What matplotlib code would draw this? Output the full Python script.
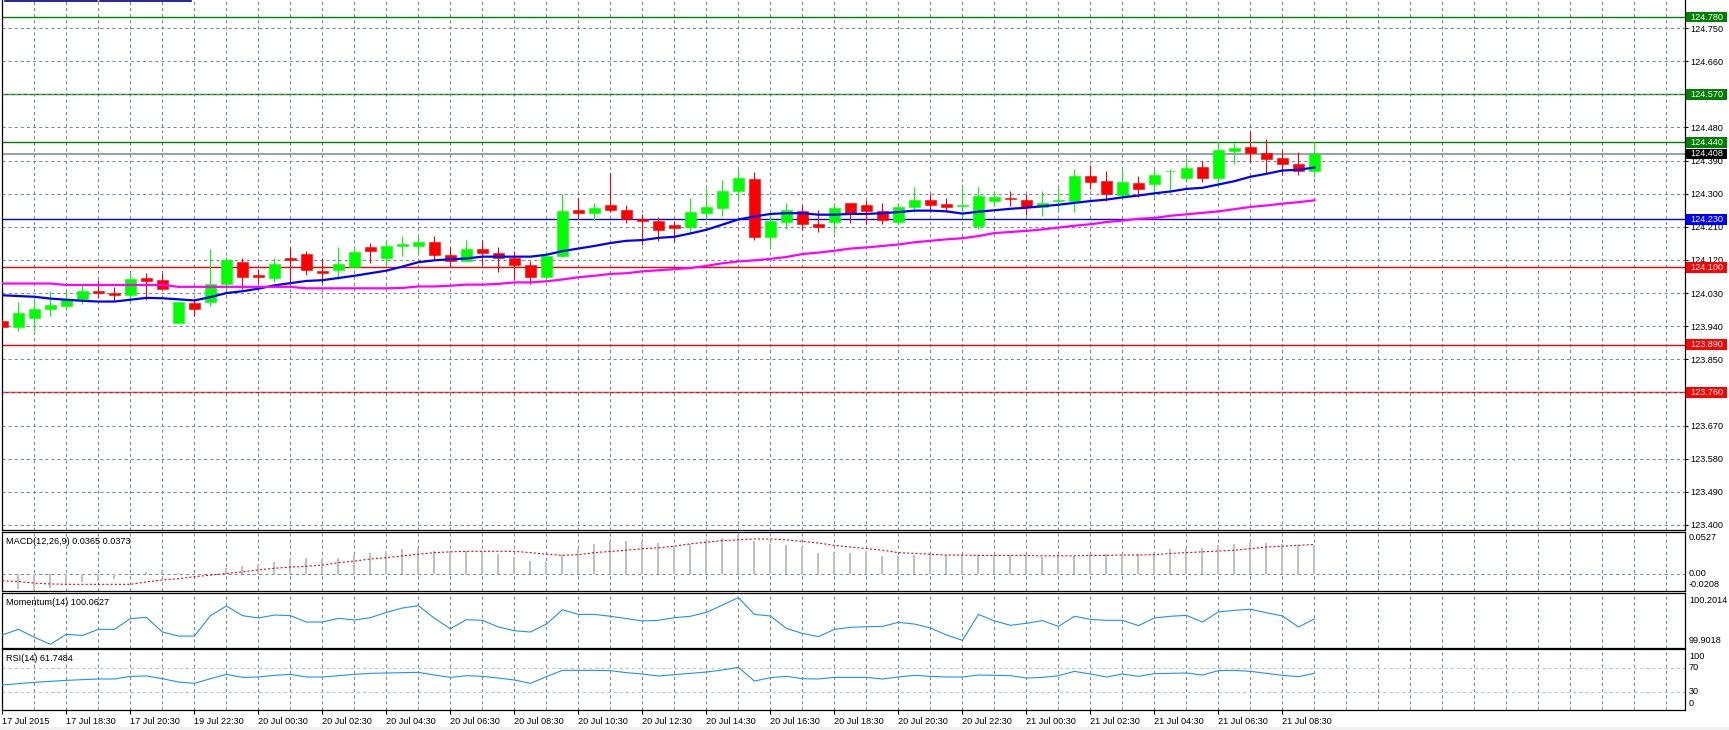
import numpy as np
import matplotlib
matplotlib.use("Agg")
import matplotlib.pyplot as plt
from matplotlib.patches import Rectangle
from matplotlib.lines import Line2D
from matplotlib.ticker import FormatStrFormatter
from matplotlib.transforms import blended_transform_factory

plt.rcParams['font.family'] = ['Liberation Sans', 'DejaVu Sans']
plt.rcParams['lines.scale_dashes'] = False

# ---- data (USDJPY-like, 30 min bars) ----
opens = [123.954, 123.939, 123.961, 123.988, 123.995, 124.015, 124.036, 124.031, 124.026, 124.072,
         124.066, 123.950, 124.004, 124.007, 124.056, 124.115, 124.080, 124.070, 124.126, 124.137,
         124.091, 124.094, 124.100, 124.156, 124.124, 124.158, 124.157, 124.170, 124.134, 124.116,
         124.151, 124.140, 124.126, 124.107, 124.073, 124.130, 124.257, 124.247, 124.268, 124.257,
         124.232, 124.227, 124.216, 124.209, 124.247, 124.261, 124.307, 124.339, 124.182, 124.223,
         124.254, 124.219, 124.224, 124.276, 124.268, 124.254, 124.224, 124.264, 124.282, 124.271,
         124.267, 124.212, 124.280, 124.287, 124.282, 124.264, 124.281, 124.279, 124.347, 124.334,
         124.296, 124.328, 124.326, 124.361, 124.343, 124.372, 124.343, 124.416, 124.426, 124.410,
         124.396, 124.380, 124.361]
highs = [124.048, 124.006, 124.016, 124.036, 124.036, 124.055, 124.066, 124.047, 124.085, 124.085,
         124.085, 124.006, 124.013, 124.151, 124.127, 124.125, 124.096, 124.126, 124.156, 124.145,
         124.126, 124.156, 124.156, 124.167, 124.175, 124.186, 124.186, 124.186, 124.155, 124.175,
         124.175, 124.156, 124.145, 124.116, 124.144, 124.298, 124.289, 124.276, 124.355, 124.268,
         124.245, 124.238, 124.227, 124.287, 124.316, 124.336, 124.366, 124.358, 124.249, 124.276,
         124.268, 124.257, 124.276, 124.276, 124.282, 124.276, 124.276, 124.317, 124.298, 124.287,
         124.317, 124.317, 124.306, 124.306, 124.298, 124.306, 124.317, 124.366, 124.377, 124.361,
         124.366, 124.347, 124.366, 124.366, 124.396, 124.388, 124.440, 124.437, 124.469, 124.448,
         124.418, 124.413, 124.440]
lows = [123.933, 123.928, 123.927, 123.969, 123.984, 123.999, 124.018, 124.009, 124.009, 124.010,
        124.040, 123.950, 123.969, 123.995, 124.040, 124.042, 124.058, 124.059, 124.058, 124.078,
        124.058, 124.069, 124.100, 124.111, 124.104, 124.130, 124.139, 124.121, 124.101, 124.116,
        124.107, 124.086, 124.066, 124.054, 124.060, 124.127, 124.230, 124.225, 124.250, 124.220,
        124.160, 124.171, 124.168, 124.191, 124.230, 124.239, 124.280, 124.175, 124.156, 124.203,
        124.201, 124.197, 124.194, 124.220, 124.219, 124.219, 124.216, 124.250, 124.250, 124.249,
        124.238, 124.205, 124.266, 124.266, 124.242, 124.239, 124.253, 124.250, 124.313, 124.280,
        124.289, 124.291, 124.291, 124.301, 124.332, 124.332, 124.320, 124.381, 124.385, 124.356,
        124.351, 124.351, 124.345]
closes = [123.939, 123.976, 123.987, 123.998, 124.014, 124.036, 124.029, 124.026, 124.069, 124.064,
          124.040, 124.006, 123.988, 124.055, 124.119, 124.075, 124.073, 124.110, 124.119, 124.092,
          124.084, 124.110, 124.141, 124.144, 124.159, 124.163, 124.170, 124.133, 124.116, 124.151,
          124.138, 124.124, 124.105, 124.075, 124.132, 124.254, 124.247, 124.260, 124.255, 124.232,
          124.225, 124.201, 124.206, 124.249, 124.263, 124.306, 124.342, 124.182, 124.227, 124.257,
          124.217, 124.209, 124.260, 124.247, 124.253, 124.228, 124.263, 124.284, 124.269, 124.264,
          124.268, 124.293, 124.290, 124.286, 124.263, 124.276, 124.282, 124.347, 124.332, 124.299,
          124.331, 124.313, 124.350, 124.362, 124.370, 124.343, 124.418, 124.424, 124.411, 124.394,
          124.381, 124.362, 124.408]

ma_fast = [124.024, 124.022, 124.020, 124.015, 124.012, 124.009, 124.007, 124.007, 124.012, 124.017,
           124.016, 124.013, 124.010, 124.019, 124.030, 124.035, 124.042, 124.051, 124.057, 124.063,
           124.065, 124.071, 124.077, 124.084, 124.091, 124.102, 124.114, 124.119, 124.122, 124.124,
           124.129, 124.129, 124.129, 124.129, 124.134, 124.144, 124.151, 124.158, 124.166, 124.172,
           124.174, 124.180, 124.183, 124.192, 124.202, 124.216, 124.230, 124.238, 124.245, 124.247,
           124.247, 124.243, 124.243, 124.245, 124.245, 124.247, 124.250, 124.254, 124.254, 124.252,
           124.246, 124.251, 124.255, 124.259, 124.262, 124.266, 124.270, 124.275, 124.280, 124.284,
           124.290, 124.295, 124.301, 124.306, 124.313, 124.316, 124.325, 124.334, 124.346, 124.354,
           124.363, 124.365, 124.371]
ma_slow = [124.056, 124.056, 124.056, 124.056, 124.052, 124.052, 124.052, 124.052, 124.052, 124.052,
           124.052, 124.047, 124.047, 124.047, 124.047, 124.047, 124.047, 124.047, 124.047, 124.043,
           124.043, 124.043, 124.043, 124.043, 124.043, 124.044, 124.048, 124.048, 124.050, 124.053,
           124.053, 124.055, 124.059, 124.059, 124.062, 124.067, 124.073, 124.077, 124.082, 124.084,
           124.089, 124.092, 124.095, 124.098, 124.104, 124.111, 124.116, 124.119, 124.123, 124.128,
           124.136, 124.140, 124.145, 124.151, 124.154, 124.158, 124.162, 124.168, 124.172, 124.176,
           124.179, 124.185, 124.193, 124.196, 124.199, 124.203, 124.208, 124.213, 124.217, 124.223,
           124.227, 124.232, 124.234, 124.240, 124.244, 124.248, 124.252, 124.258, 124.264, 124.268,
           124.273, 124.277, 124.282]

macd_main = [-0.010, -0.018, -0.019, -0.017, -0.013, -0.010, -0.008, -0.006, -0.001, 0.003,
             0.004, 0.002, 0.001, 0.001, 0.0075, 0.010, 0.012, 0.015, 0.019, 0.020,
             0.019, 0.020, 0.024, 0.027, 0.029, 0.0315, 0.033, 0.029, 0.029, 0.029,
             0.029, 0.025, 0.0215, 0.017, 0.015, 0.024, 0.0315, 0.038, 0.0415, 0.0415,
             0.0415, 0.039, 0.035, 0.038, 0.041, 0.045, 0.049, 0.041, 0.038, 0.037,
             0.034, 0.026, 0.027, 0.026, 0.029, 0.023, 0.023, 0.0245, 0.025, 0.0245,
             0.0245, 0.0245, 0.0245, 0.0245, 0.023, 0.021, 0.025, 0.023, 0.025, 0.025,
             0.025, 0.025, 0.027, 0.031, 0.033, 0.033, 0.036, 0.038, 0.040, 0.039,
             0.038, 0.036, 0.0365]
macd_signal = [-0.008, -0.009, -0.011, -0.012, -0.0125, -0.0125, -0.0125, -0.0125, -0.0125, -0.0095,
               -0.007, -0.0055, -0.003, -0.001, 0.001, 0.003, 0.0055, 0.0075, 0.009, 0.010,
               0.0115, 0.0145, 0.0165, 0.019, 0.0207, 0.023, 0.025, 0.027, 0.028, 0.0286,
               0.0286, 0.0286, 0.0286, 0.027, 0.025, 0.0237, 0.0245, 0.027, 0.0285, 0.030,
               0.032, 0.033, 0.035, 0.038, 0.040, 0.042, 0.043, 0.044, 0.044, 0.043,
               0.041, 0.039, 0.036, 0.034, 0.032, 0.030, 0.027, 0.026, 0.025, 0.024,
               0.024, 0.0235, 0.0235, 0.0235, 0.0235, 0.023, 0.023, 0.023, 0.0235, 0.0235,
               0.024, 0.024, 0.0245, 0.026, 0.027, 0.028, 0.029, 0.030, 0.032, 0.034,
               0.035, 0.036, 0.0373]

momentum = [99.962, 99.998, 99.947, 99.902, 99.966, 99.959, 99.998, 99.998, 100.067, 100.075,
            99.981, 99.955, 99.955, 100.086, 100.148, 100.086, 100.071, 100.090, 100.086, 100.045,
            100.045, 100.069, 100.058, 100.073, 100.107, 100.135, 100.150, 100.069, 100.002, 100.060,
            100.056, 100.013, 99.989, 99.981, 100.032, 100.124, 100.094, 100.094, 100.082, 100.067,
            100.052, 100.056, 100.073, 100.082, 100.107, 100.154, 100.202, 100.094, 100.084, 100.004,
            99.972, 99.951, 99.998, 100.011, 100.015, 100.017, 100.043, 100.032, 100.007, 99.962,
            99.927, 100.094, 100.052, 100.024, 100.037, 100.054, 100.017, 100.082, 100.062, 100.056,
            100.056, 100.022, 100.071, 100.082, 100.088, 100.045, 100.110, 100.120, 100.127, 100.105,
            100.084, 100.013, 100.065]

rsi = [42.2, 44.4, 46.6, 48.3, 49.9, 51.1, 52.2, 52.2, 56.6, 57.2,
       52.7, 47.2, 44.9, 52.7, 59.9, 54.9, 55.5, 58.3, 59.9, 55.5,
       55.5, 57.7, 59.9, 61.6, 62.2, 62.7, 63.3, 58.8, 54.9, 57.7,
       56.6, 53.8, 50.5, 44.9, 56.1, 66.6, 66.6, 66.6, 66.1, 62.7,
       60.5, 57.2, 59.4, 61.6, 63.8, 67.2, 71.6, 48.8, 54.4, 56.6,
       52.7, 52.2, 54.9, 54.9, 54.9, 52.2, 55.5, 58.3, 56.6, 55.5,
       55.5, 58.8, 58.3, 57.7, 53.8, 54.9, 57.7, 64.9, 60.5, 55.5,
       60.5, 56.6, 61.1, 61.6, 62.2, 58.8, 66.1, 66.6, 64.9, 61.6,
       58.3, 56.1, 61.6]

time_labels = ["17 Jul 2015", "17 Jul 18:30", "17 Jul 20:30", "19 Jul 22:30", "20 Jul 00:30",
               "20 Jul 02:30", "20 Jul 04:30", "20 Jul 06:30", "20 Jul 08:30", "20 Jul 10:30",
               "20 Jul 12:30", "20 Jul 14:30", "20 Jul 16:30", "20 Jul 18:30", "20 Jul 20:30",
               "20 Jul 22:30", "21 Jul 00:30", "21 Jul 02:30", "21 Jul 04:30", "21 Jul 06:30",
               "21 Jul 08:30"]

resistance = [124.780, 124.570, 124.440]
pivot = 124.230
support = [124.100, 123.890, 123.760]
bid = 124.408
price_grid = [123.400, 123.490, 123.580, 123.670, 123.760, 123.850, 123.940, 124.030, 124.120,
              124.210, 124.300, 124.390, 124.480, 124.570, 124.660, 124.750]
macd_range = (0.0527, -0.0208)
mom_range = (100.2014, 99.9018)
rsi_levels = [70, 30]

# ---- layout ----
W, H = 1729, 730
GRID = '#778899'
DASH = (0, (2.2, 2.2))
FS = 6.6

fig = plt.figure(figsize=(W / 100, H / 100), dpi=100)
fig.patch.set_facecolor('white')


def box(top, bottom, left=2, right=1685):
    return [left / W, (H - bottom) / H, (right - left) / W, (bottom - top) / H]


def fx(x):
    return x / W


def fy(y):
    return 1 - y / H


ax = fig.add_axes(box(0, 530))
ax_macd = fig.add_axes(box(532, 591))
ax_mom = fig.add_axes(box(593.3, 647.7))
ax_rsi = fig.add_axes(box(649.3, 710.3))
panels = [ax, ax_macd, ax_mom, ax_rsi]

x = np.arange(len(closes))
o = np.array(opens)
c = np.array(closes)

for a in panels:
    a.set_xlim(-0.025, 105.16)
    for gx in range(0, 106, 2):
        a.axvline(gx, color=GRID, lw=0.75, ls=DASH, zorder=0.5)
    a.set_xticks([])
    a.set_yticks([])
    for s in a.spines.values():
        s.set_color('black')
        s.set_linewidth(0.9)
ax.spines['top'].set_visible(False)

# ---- main price panel ----
ax.set_ylim(123.3864, 124.8262)
ax.set_yticks(price_grid)
ax.yaxis.tick_right()
ax.yaxis.set_major_formatter(FormatStrFormatter('%.3f'))
ax.tick_params(axis='y', length=2.5, width=0.75, pad=1.5, labelsize=FS)
ax.grid(axis='y', color=GRID, lw=0.75, ls=DASH, zorder=0.5)

for lv in resistance:
    ax.axhline(lv, color='#008000', lw=1.0, zorder=1)
ax.axhline(pivot, color='#0000ff', lw=1.0, zorder=1)
for lv in support:
    ax.axhline(lv, color='#ff0000', lw=1.0, zorder=1)
ax.axhline(bid, color=GRID, lw=1.1, zorder=1)

up = c >= o
cols = np.where(up, '#00ff00', '#ff0000')
ax.vlines(x, lows, highs, colors=cols, lw=0.8, zorder=2)
ax.bar(x, np.maximum(np.abs(c - o), 0.0012), bottom=np.minimum(o, c), width=0.6875,
       color=cols, edgecolor=cols, linewidth=0.4, zorder=3)

ax.plot(x, ma_fast, color='#0000ff', lw=1.6, zorder=4)
ax.plot(x, ma_slow, color='#ff00ff', lw=1.6, zorder=4)

# price tags on the right scale
tr = blended_transform_factory(ax.transAxes, ax.transData)
tags = [(v, '#008000') for v in resistance] + [(pivot, '#0000ff')] + \
       [(v, '#ff0000') for v in support] + [(bid, '#000000')]
for val, col in tags:
    ax.add_patch(Rectangle(((1686 - 2) / 1683, val - 0.0146), 41 / 1683, 0.0292,
                           transform=tr, facecolor=col, edgecolor='none',
                           clip_on=False, zorder=10))
    ax.text((1690 - 2) / 1683, val, f'{val:.3f}', transform=tr, color='white',
            fontsize=FS, va='center', ha='left', clip_on=False, zorder=11)

# ---- MACD ----
ax_macd.set_ylim(macd_range[1], macd_range[0])
ax_macd.axhline(0, color=GRID, lw=0.75, ls=DASH, zorder=0.5)
ax_macd.bar(x, macd_main, width=0.13, color='#c0c0c0', zorder=2)
ax_macd.plot(x, macd_signal, color='#ff0000', lw=0.8, ls=(0, (1.5, 1.5)), zorder=3)

# ---- Momentum ----
ax_mom.set_ylim(99.880, 100.2297)
ax_mom.plot(x, momentum, color='#1e90ff', lw=0.8, zorder=3)

# ---- RSI ----
ax_rsi.set_ylim(0, 101.7)
for lv in rsi_levels:
    ax_rsi.axhline(lv, color='#c0c0c0', lw=0.75, ls=DASH, zorder=0.5)
ax_rsi.plot(x, rsi, color='#1e90ff', lw=0.8, zorder=3)
ax_rsi.set_xticks(np.arange(0, 4 * len(time_labels), 4), labels=time_labels)
ax_rsi.tick_params(axis='x', length=3, width=0.75, pad=1.5, labelsize=FS)
for lbl in ax_rsi.get_xticklabels():
    lbl.set_ha('left')

# ---- indicator captions and scale texts ----
fig.text(fx(6), fy(541), f'MACD(12,26,9) {macd_main[-1]:.4f} {macd_signal[-1]:.4f}',
         fontsize=FS, va='center')
fig.text(fx(6), fy(602.7), 'Momentum(14) 100.0627', fontsize=FS, va='center')
fig.text(fx(6), fy(658.3), 'RSI(14) 61.7484', fontsize=FS, va='center')

fig.text(fx(1689), fy(538), f'{macd_range[0]:.4f}', fontsize=FS, va='center')
fig.text(fx(1689), fy(573.3), '0.00', fontsize=FS, va='center')
fig.text(fx(1689), fy(584.3), f'{macd_range[1]:.4f}', fontsize=FS, va='center')
fig.text(fx(1689), fy(600.7), f'{mom_range[0]:.4f}', fontsize=FS, va='center')
fig.text(fx(1689), fy(640.7), f'{mom_range[1]:.4f}', fontsize=FS, va='center')
fig.text(fx(1689), fy(656.7), '100', fontsize=FS, va='center')
fig.text(fx(1689), fy(667.7), '70', fontsize=FS, va='center')
fig.text(fx(1689), fy(691.3), '30', fontsize=FS, va='center')
fig.text(fx(1689), fy(703.7), '0', fontsize=FS, va='center')

# window decorations: tab strip at top-left and grey bottom strip
fig.add_artist(Line2D([fx(5), fx(97)], [fy(0.6), fy(0.6)], color='#00008b', lw=1.2))
fig.add_artist(Line2D([fx(100), fx(191)], [fy(0.6), fy(0.6)], color='#00008b', lw=1.2))
fig.add_artist(Rectangle((0, 0), 1, 3 / H, transform=fig.transFigure,
                         facecolor='#f0f0f0', edgecolor='none'))

fig.savefig('out.png', dpi=100)
